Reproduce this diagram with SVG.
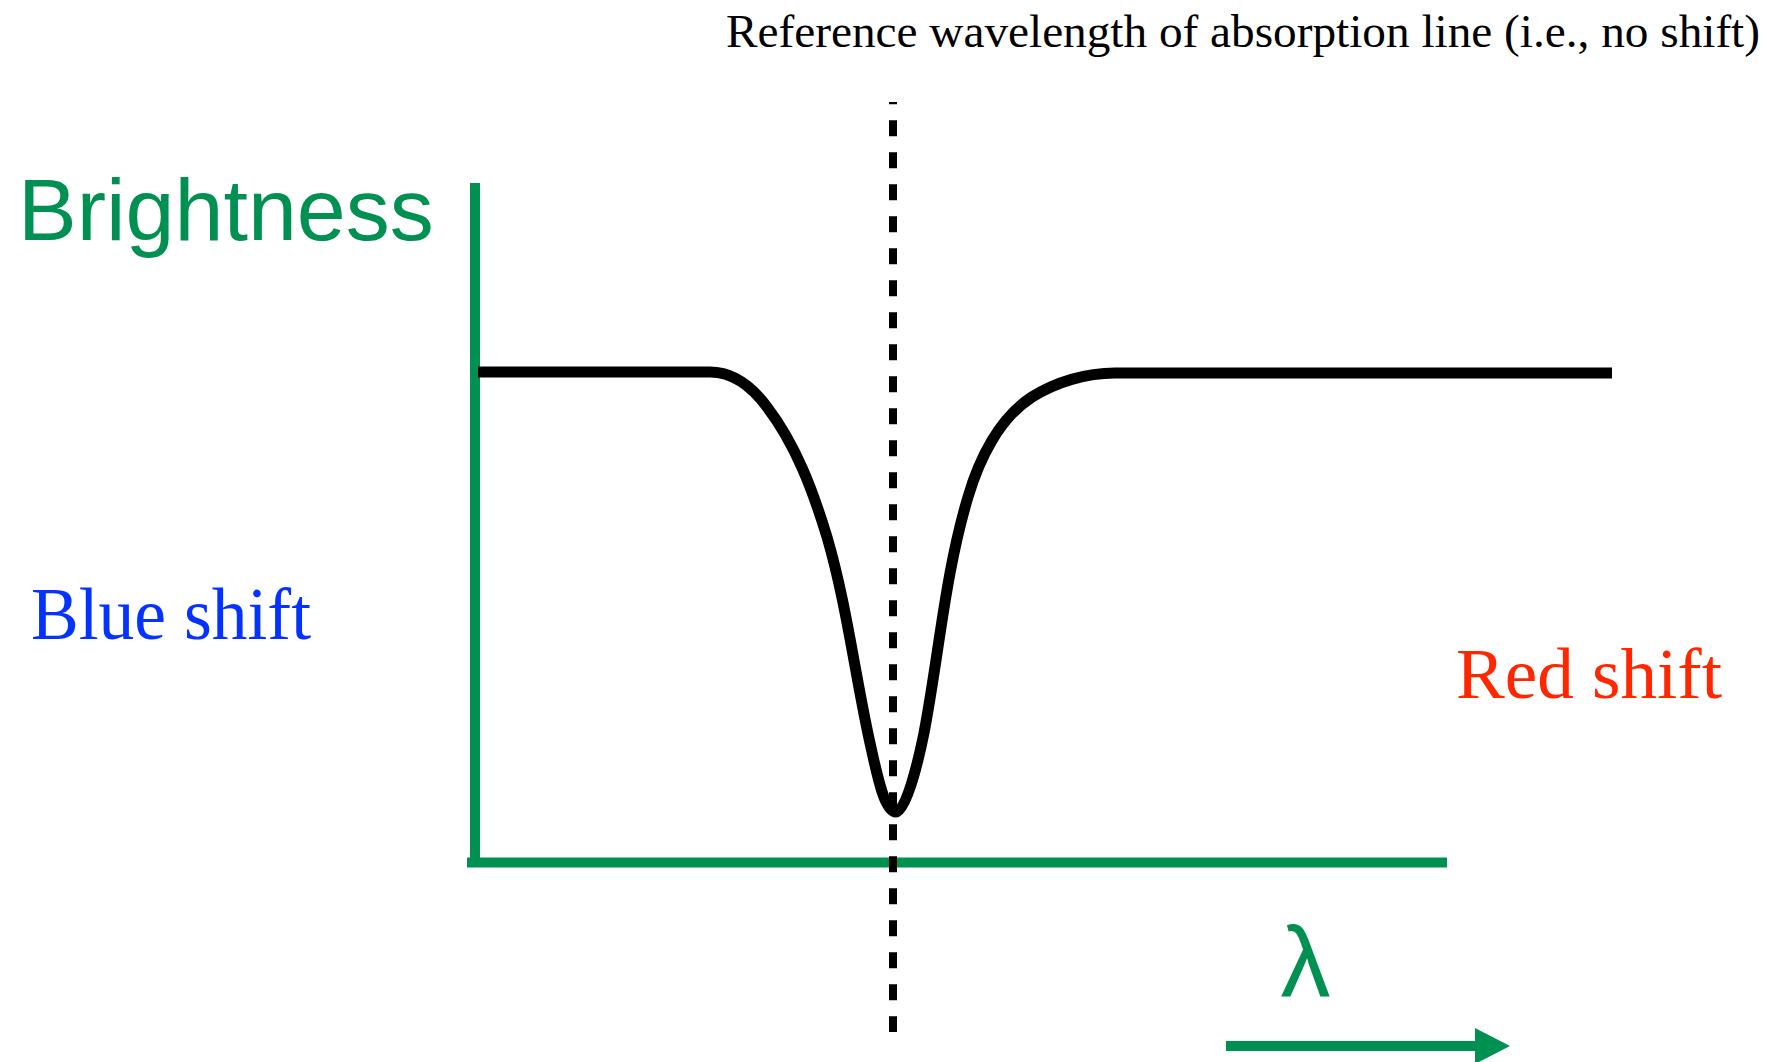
<svg xmlns="http://www.w3.org/2000/svg" width="1774" height="1062" viewBox="0 0 1774 1062">
  <style>
    .axis { stroke: #009051; stroke-width: 10; fill: none; }
    .serif { font-family: "Liberation Serif", "Times New Roman", serif; }
    .sans { font-family: "Liberation Sans", Arial, sans-serif; }
  </style>
  <defs>
    <marker id="arrowhead" markerUnits="userSpaceOnUse" markerWidth="36" markerHeight="36" refX="1" refY="18" orient="auto">
      <path d="M0,0 L35,18 L0,36 Z" fill="#009051"/>
    </marker>
  </defs>
  <rect width="1774" height="1062" fill="#ffffff"/>

  <g id="axes">
    <line class="axis" x1="475" y1="183" x2="475" y2="862"/>
    <line class="axis" x1="467" y1="862.5" x2="1447" y2="862.5"/>
  </g>

  <g id="spectrum">
    <path d="M478,372 L710,372 C735,372 753,388 767,407 C796,445 813,491 827,537 C846.6,604 855,675 870,743 C876.5,772 884,812 896,812 C906,812 918,762.5 924,733 C939,654.4 945,573.6 968,497 C979,459.6 999,418 1032,397 C1056,382 1086,373 1115,373 L1612,373" fill="none" stroke="#000000" stroke-width="11" stroke-linejoin="round"/>
  </g>

  <g id="reference-line">
    <line x1="893" y1="102" x2="893" y2="1032" stroke="#000000" stroke-width="8" stroke-dasharray="16 16" stroke-dashoffset="13.7"/>
  </g>

  <g id="label-reference">
    <text class="serif" x="726" y="47" font-size="47" fill="#000000" textLength="1034" lengthAdjust="spacingAndGlyphs">Reference wavelength of absorption line (i.e., no shift)</text>
  </g>
  <g id="label-brightness">
    <text class="sans" x="18" y="240" font-size="88" fill="#009051">Brightness</text>
  </g>
  <g id="label-blue">
    <text class="serif" x="31" y="639" font-size="73" fill="#0433FF" textLength="280" lengthAdjust="spacingAndGlyphs">Blue shift</text>
  </g>
  <g id="label-red">
    <text class="serif" x="1456" y="698" font-size="72" fill="#FF2600" textLength="266" lengthAdjust="spacingAndGlyphs">Red shift</text>
  </g>
  <g id="label-lambda">
    <text class="sans" x="1305.5" y="997" font-size="100" fill="#009051" text-anchor="middle">λ</text>
  </g>

  <g id="connectors">
    <line class="axis" x1="1226" y1="1046" x2="1476" y2="1046" marker-end="url(#arrowhead)"/>
  </g>
</svg>
